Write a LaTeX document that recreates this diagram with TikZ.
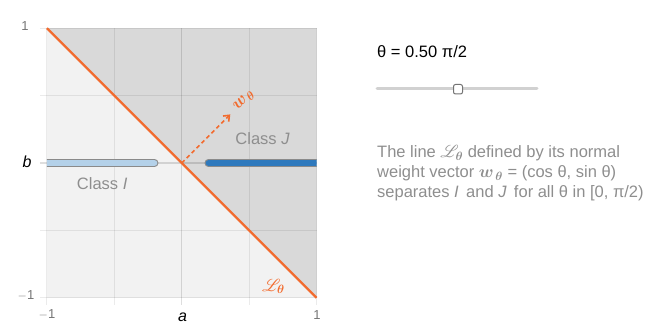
\documentclass[tikz,border=0pt]{standalone}
\usepackage{amsmath,amssymb,bm}
\usepackage{mathrsfs}
\usepackage{fontspec}
\setmainfont{Liberation Sans}
\usetikzlibrary{arrows.meta}

\definecolor{lightbg}{HTML}{F2F2F2}
\definecolor{darkbg}{HTML}{D9D9D9}
\definecolor{lineorange}{HTML}{F26B2E}
\definecolor{barlight}{HTML}{B4D1E9}
\definecolor{bardark}{HTML}{2E79BD}
\definecolor{barborder}{HTML}{8A8A8A}
\definecolor{textgray}{HTML}{8E8E8E}
\definecolor{tickgray}{HTML}{767676}

\tikzset{
    gridline/.style={black!100, opacity=0.08, line width=0.9pt},
    axisline/.style={black, opacity=0.13, line width=1.2pt},
    ticklabel/.style={text=tickgray, font=\fontsize{13}{15}\selectfont},
    axislabel/.style={font=\fontsize{16}{18}\selectfont\itshape},
    classlabel/.style={text=textgray, font=\fontsize{16.5}{18}\selectfont},
    classbar/.style={draw=barborder, line width=0.9pt, rounded corners=3.5pt},
    vecname/.style={text=lineorange, font=\fontsize{18}{20}\selectfont},
    textline/.style={anchor=base west, inner sep=0pt}
}

\begin{document}
\begin{tikzpicture}[x=1pt, y=-1pt, >=Stealth, font=\fontsize{16.5}{20}\selectfont]
    \useasboundingbox (0,0) rectangle (662,336);

    % 坐标区 (数据坐标)
    \begin{scope}[shift={(181.7pt,-163pt)}, x=134.8pt, y=134.8pt]
        % 两个半平面
        \fill[lightbg] (-1,-1) rectangle (1,1);
        \fill[darkbg] (-1,1) -- (1,1) -- (1,-1) -- cycle;

        % 网格线及刻度
        \foreach \t in {-1, -0.5, 0.5, 1} {
            \draw[gridline] (\t,-1.052) -- (\t,1);
            \draw[gridline] (-1.052,\t) -- (1,\t);
        }
        \draw[axisline] (0,-1.052) -- (0,1);
        \draw[axisline] (-1.052,0) -- (1,0);

        % 两类的区间
        \begin{scope}
            \clip (-1,-1) rectangle (1,1);
            \draw[classbar, fill=barlight] (-1.3,-0.026) rectangle (-0.176,0.026);
            \draw[classbar, fill=bardark] (0.173,-0.026) rectangle (1.3,0.026);
        \end{scope}
        \node[classlabel] (classI) at (-0.59,-0.156) {Class \textit{I}};
        \node[classlabel] (classJ) at (0.60,0.178) {Class \textit{J}};

        % 分隔直线 L
        \coordinate (ltop) at (-1,1);
        \coordinate (lbot) at (1,-1);
        \draw[lineorange, line width=2.4pt] (ltop) -- (lbot);
        \node[vecname] (lname) at (0.68,-0.915) {$\mathscr{L}_{\bm\theta}$};

        % 法向量 w
        \coordinate (origin) at (0,0);
        \coordinate (wtip) at (45:0.51);
        \draw[lineorange, line width=1.6pt, dash pattern=on 4pt off 3pt,
              -{Straight Barb[length=5pt, width=8pt]}] (origin) -- (wtip);
        \node[vecname, rotate=45] (wname) at (45:0.655) {$\bm{w}_{\,\bm\theta}$};
    \end{scope}

    % 轴刻度标注
    \node[ticklabel] (ytop) at (25,26) {1};
    \node[ticklabel] (ybot) at (26,296) {$-$1};
    \node[axislabel] (bname) at (27,162) {b};
    \node[ticklabel] (xleft) at (47,315) {$-$1};
    \node[axislabel] (aname) at (182.5,317) {a};
    \node[ticklabel] (xright) at (317,315) {1};

    % 右侧: 角度与滑块
    \node[textline] (theta) at (377,58) {θ = 0.50 π/2};
    \coordinate (sleft) at (377,89);
    \coordinate (sright) at (537,89);
    \draw[black!18, line width=3pt, line cap=round] (sleft) -- (sright);
    \draw[black!55, fill=white, line width=1pt, rounded corners=2pt] (453.5,84.5) rectangle (462.5,94);

    % 右侧说明文字
    \node[textline, text=textgray] (line1) at (377,158)
        {The line $\mathscr{L}_{\bm\theta}$ defined by its normal};
    \node[textline, text=textgray] (line2) at (377,178)
        {weight vector $\bm{w}_{\,\bm\theta}$ = (cos θ, sin θ)};
    \node[textline, text=textgray] (line3) at (377,198)
        {separates \textit{I}\, and \textit{J}\, for all θ in [0, π/2)};
\end{tikzpicture}
\end{document}
